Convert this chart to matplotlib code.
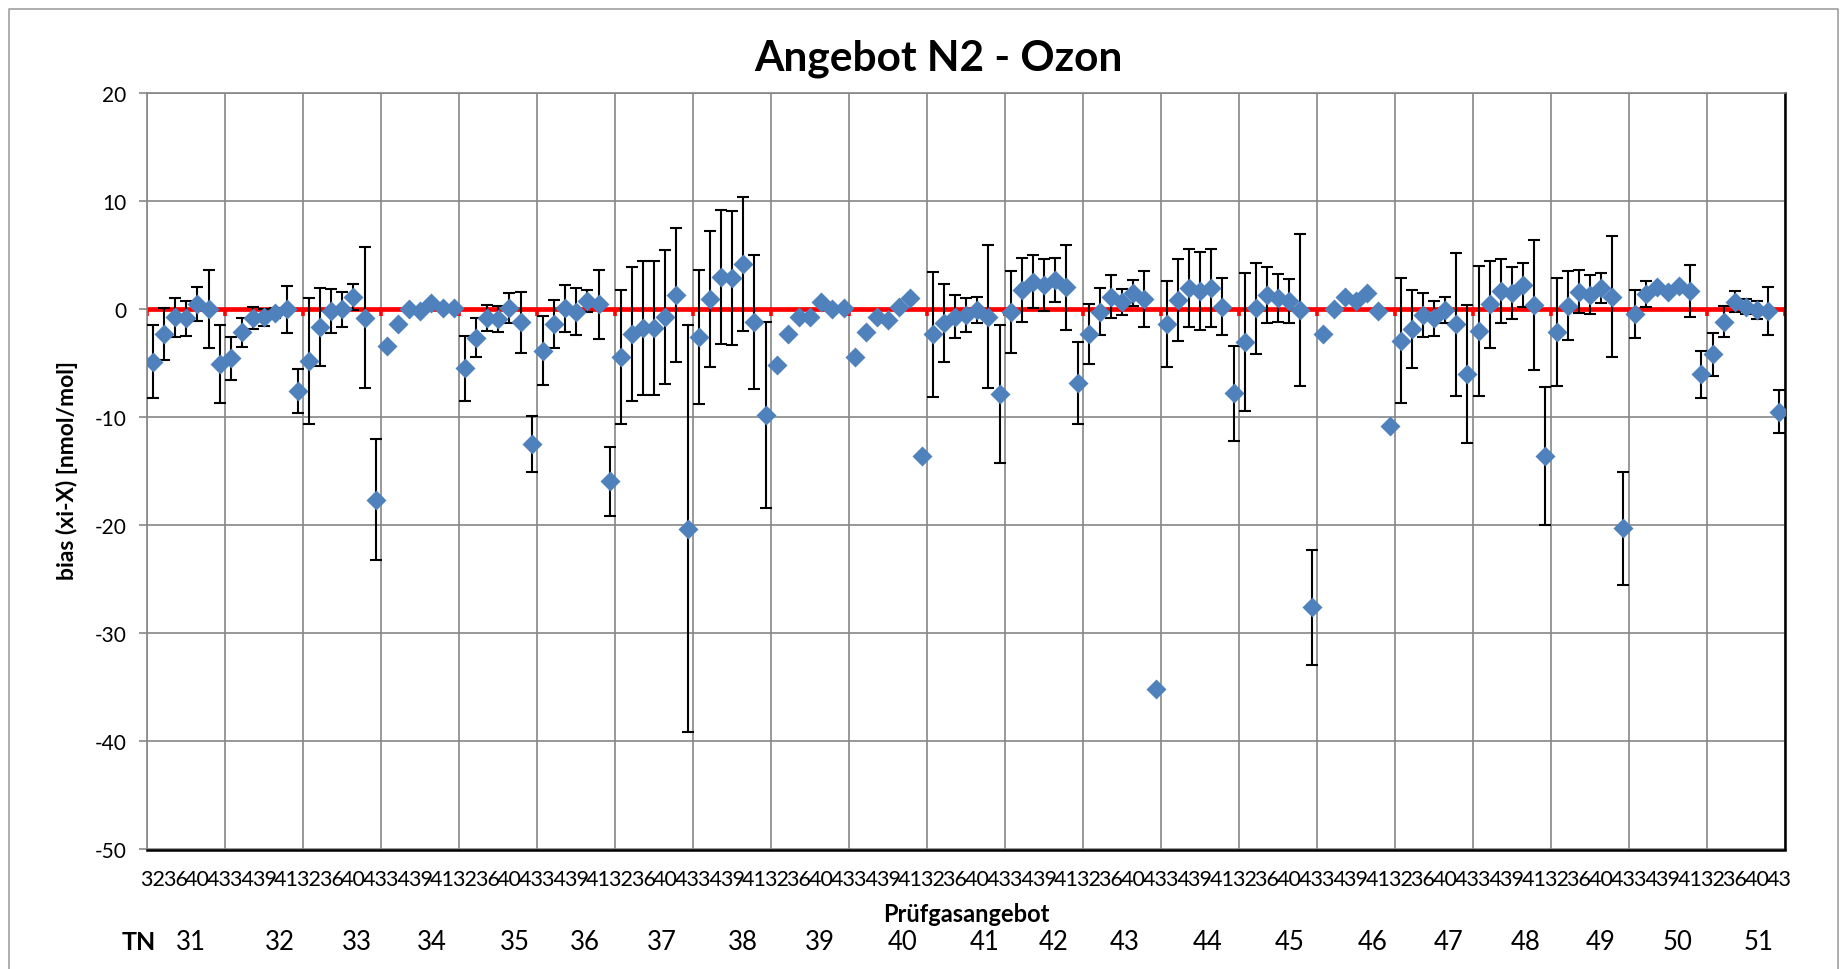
import numpy as np
import matplotlib
matplotlib.use("Agg")
import matplotlib.pyplot as plt
from matplotlib.lines import Line2D

# ---------------- data ----------------
tn_ids = list(range(31, 52))                 # Teilnehmer (groups)
gas_ids = [32, 34, 36, 39, 40, 41, 43]       # Prüfgasangebot per participant

# bias (xi-X) [nmol/mol], one row per TN, 7 values each
bias = [
    -4.85, -2.28, -0.74, -0.83, 0.46, 0.00, -5.06,      # 31
    -4.54, -2.13, -0.83, -0.74, -0.35, 0.00, -7.56,     # 32
    -4.78, -1.64, -0.15, 0.00, 1.17, -0.77, -17.65,     # 33
    -3.36, -1.39, 0.00, -0.15, 0.62, 0.09, 0.09,        # 34
    -5.46, -2.62, -0.83, -0.93, 0.09, -1.20, -12.47,    # 35
    -3.83, -1.36, 0.09, -0.22, 0.77, 0.46, -15.90,      # 36
    -4.44, -2.31, -1.70, -1.76, -0.74, 1.33, -20.30,    # 37
    -2.53, 0.96, 2.96, 2.87, 4.20, -1.20, -9.78,        # 38
    -5.15, -2.31, -0.68, -0.74, 0.71, 0.03, 0.09,       # 39
    -4.44, -2.07, -0.68, -0.99, 0.25, 1.02, -13.58,     # 40
    -2.31, -1.30, -0.68, -0.52, -0.06, -0.68, -7.84,    # 41
    -0.22, 1.79, 2.56, 2.25, 2.72, 2.04, -6.85,         # 42
    -2.28, -0.22, 1.17, 0.71, 1.54, 0.96, -35.10,       # 43
    -1.36, 0.86, 1.94, 1.70, 2.00, 0.25, -7.78,         # 44
    -3.06, 0.09, 1.33, 1.02, 0.77, -0.06, -27.60,       # 45
    -2.28, 0.00, 1.17, 0.80, 1.48, -0.15, -10.77,       # 46
    -2.90, -1.85, -0.52, -0.83, -0.06, -1.39, -6.02,    # 47
    -2.00, 0.46, 1.70, 1.48, 2.25, 0.40, -13.58,        # 48
    -2.07, 0.34, 1.64, 1.33, 1.94, 1.17, -20.28,        # 49
    -0.43, 1.39, 2.10, 1.64, 2.16, 1.70, -6.02,         # 50
    -4.17, -1.14, 0.71, 0.25, -0.06, -0.15, -9.48,      # 51
]

# expanded uncertainty (error bar half-length); None = no error bar
unc = [
    3.4, 2.4, 1.8, 1.6, 1.57, 3.6, 3.6,                 # 31
    2.0, 1.36, 1.0, 0.77, 0.5, 2.2, 2.0,                # 32
    5.8, 3.6, 2.0, 1.6, 1.2, 6.5, 5.6,                  # 33
    None, None, None, None, None, None, None,           # 34
    3.0, 1.77, 1.2, 1.2, 1.4, 2.8, 2.6,                 # 35
    3.2, 2.2, 2.2, 2.2, 1.0, 3.2, 3.2,                  # 36
    6.2, 6.2, 6.2, 6.2, 6.2, 6.2, 18.8,                 # 37
    6.2, 6.3, 6.2, 6.2, 6.2, 6.2, 8.6,                  # 38
    None, None, None, None, None, None, None,           # 39
    None, None, None, None, None, None, None,           # 40
    5.8, 3.6, 2.0, 1.6, 1.2, 6.6, 6.4,                  # 41
    3.8, 3.0, 2.45, 2.4, 2.0, 3.95, 3.8,                # 42
    2.8, 2.2, 2.0, 1.2, 1.2, 2.6, None,                 # 43
    4.0, 3.8, 3.6, 3.6, 3.6, 2.6, 4.4,                  # 44
    6.4, 4.2, 2.6, 2.2, 2.0, 7.0, 5.3,                  # 45
    None, None, None, None, None, None, None,           # 46
    5.8, 3.6, 2.0, 1.6, 1.2, 6.6, 6.4,                  # 47
    6.0, 4.0, 3.0, 2.4, 2.0, 6.0, 6.4,                  # 48
    5.0, 3.2, 2.0, 1.8, 1.4, 5.6, 5.2,                  # 49
    2.2, 1.2, None, None, None, 2.4, 2.2,               # 50
    2.0, 1.4, 1.0, 0.7, 0.8, 2.2, 2.0,                  # 51
]

title = "Angebot N2 - Ozon"
ylabel = "bias (xi-X) [nmol/mol]"
xlabel = "Prüfgasangebot"
y_ticks = [-50, -40, -30, -20, -10, 0, 10, 20]

# ---------------- layout ----------------
W, H = 1847, 970
plt.rcParams['font.family'] = ['Lato', 'DejaVu Sans']
plt.rcParams['axes.unicode_minus'] = False

fig = plt.figure(figsize=(W / 100, H / 100), dpi=100)
L, R, T, B = 147.3, 1785.0, 94.2, 850.5
ax = fig.add_axes([L / W, 1 - B / H, (R - L) / W, (B - T) / H])

n_g = len(gas_ids)
n = len(tn_ids) * n_g
x = np.arange(n)
y = np.array(bias, dtype=float)
e = np.array([np.nan if v is None else v for v in unc], dtype=float)
has = ~np.isnan(e)

grid_col = '#868686'
bounds = np.arange(0, n + 1, n_g) - 0.5

ax.set_xlim(-0.5, n - 0.5)
ax.set_ylim(min(y_ticks), max(y_ticks))

# grid
ax.set_xticks(bounds, minor=True)
ax.set_yticks(y_ticks)
ax.grid(which='minor', axis='x', color=grid_col, lw=1.2, zorder=0)
ax.grid(which='major', axis='y', color=grid_col, lw=1.2, zorder=0)
ax.set_axisbelow(True)

# red zero line with its tick marks
ax.axhline(0, color='#ff0000', lw=3.4, zorder=2.5)
ax.vlines(bounds, -0.6, 0, color='#ff0000', lw=2.6, zorder=2.5)

# error bars + diamonds
ax.errorbar(x[has], y[has], yerr=e[has], fmt='none', ecolor='black',
            elinewidth=1.5, capsize=4, capthick=1.5, zorder=3)
ax.plot(x, y, 'D', color='#4F81BD', ms=10, mec='none', zorder=4)

# x tick labels: every other category shown
shown = x[::2]
ax.set_xticks(shown)
ax.set_xticklabels([str(gas_ids[i % n_g]) for i in shown])
ax.tick_params(axis='x', which='both', length=0, labelsize=15.5, pad=14)
ax.tick_params(axis='y', which='major', length=6, width=1.2, color=grid_col,
               direction='out', labelsize=15, pad=9)

for s in ('left', 'top'):
    ax.spines[s].set_color(grid_col)
    ax.spines[s].set_linewidth(1.2)
for s in ('bottom', 'right'):
    ax.spines[s].set_color('black')
    ax.spines[s].set_linewidth(1.8)

# texts
fig.text(938 / W, 1 - 59 / H, title, ha='center', va='center',
         fontsize=30.5, fontweight='bold')
fig.text(67 / W, 1 - 471 / H, ylabel, ha='center', va='center',
         rotation=90, fontsize=16.5, fontweight='bold')
fig.text(966 / W, 1 - 915 / H, xlabel, ha='center', va='center',
         fontsize=17, fontweight='bold')
fig.text(139 / W, 1 - 943 / H, 'TN', ha='center', va='center',
         fontsize=18, fontweight='bold')
tn_x_px = [190.7, 280, 356.7, 432.3, 515, 585, 661.4, 743, 819.7, 902.7,
           984.7, 1054, 1124.5, 1207.4, 1290, 1372.5, 1448.8, 1526, 1601,
           1677.8, 1759]
for t, xp in zip(tn_ids, tn_x_px):
    fig.text(xp / W, 1 - 943 / H, str(t), ha='center', va='center', fontsize=18.5)

# chart border
fig.add_artist(Line2D([9 / W, 9 / W, 1838 / W, 1838 / W],
                      [0, 1 - 9.5 / H, 1 - 9.5 / H, 0],
                      color='#a0a0a0', lw=1.2, transform=fig.transFigure))

fig.savefig('out.png', dpi=100)
